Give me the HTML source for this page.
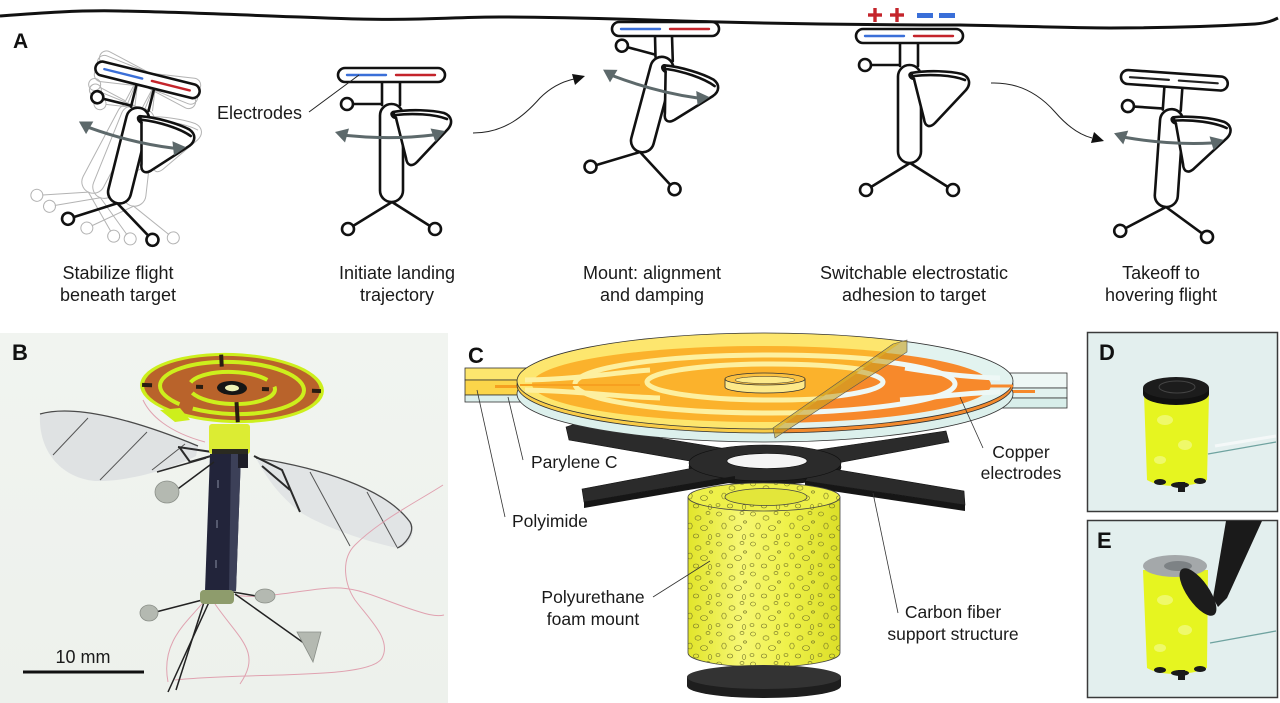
<!DOCTYPE html>
<html><head><meta charset="utf-8">
<style>
html,body{margin:0;padding:0;background:#fff;}
svg{display:block;}
text{font-family:"Liberation Sans",Arial,sans-serif;fill:#1a1a1a;}
.cap{font-size:18px;}
.lab{font-size:17.5px;}
.pl{font-size:22px;font-weight:bold;fill:#111;}
</style></head><body>
<svg width="1280" height="703" viewBox="0 0 1280 703" xmlns="http://www.w3.org/2000/svg">
<defs>
 <g id="stems"><line x1="-10" y1="-121" x2="-10" y2="-97"/><line x1="8" y1="-121" x2="8" y2="-97"/></g>
 <g id="core">
  <line x1="-39" y1="-98" x2="-11" y2="-98"/>
  <line x1="0" y1="0" x2="-39" y2="24"/>
  <line x1="0" y1="0" x2="38" y2="24"/>
  <circle cx="-45" cy="-98" r="6"/>
  <circle cx="-44" cy="27" r="6"/>
  <circle cx="43" cy="27" r="6"/>
  <rect x="-12" y="-98" width="23" height="98" rx="11.5"/>
  <path d="M1,-90 C18,-93 40,-92 52,-89 C60,-86 61,-79 56,-73 L25,-40 C20,-35 15,-36 14,-44 L4,-84 Z"/>
  <path d="M4,-87 C20,-89 42,-88 55,-83" fill="none"/>
  <path d="M4,-84 C-1,-85 -2,-90 2,-90" fill="none"/>
 </g>
 <rect id="padr" x="-54" y="-134" width="107" height="14" rx="7"/>
 <g id="padcol" stroke-width="2.4"><line x1="-45" y1="-127" x2="-6" y2="-127" stroke="#3a6fd8"/><line x1="4" y1="-127" x2="43" y2="-127" stroke="#c4242b"/></g>
 <g id="padblk" stroke-width="2.2" stroke="#222"><line x1="-45" y1="-127" x2="-6" y2="-127"/><line x1="4" y1="-127" x2="43" y2="-127"/></g>
 <g id="flap">
  <path d="M-45,-66.5 Q0,-62 41,-67" fill="none" stroke="#5d696b" stroke-width="3"/>
  <polygon points="-57,-70 -43,-73.5 -47,-59.5" fill="#5d696b" stroke="none"/>
  <polygon points="53,-71 38.5,-73.5 43.5,-60" fill="#5d696b" stroke="none"/>
 </g>
 <pattern id="bub" width="34" height="30" patternUnits="userSpaceOnUse">
  <g fill="none" stroke="#6e6e28" stroke-width="0.6">
   <ellipse cx="5" cy="4" rx="2.5" ry="2"/><ellipse cx="18" cy="8" rx="3" ry="2.2"/>
   <ellipse cx="28" cy="3" rx="2" ry="1.6"/><ellipse cx="10" cy="16" rx="2.2" ry="3"/>
   <ellipse cx="24" cy="18" rx="3.5" ry="2.5"/><ellipse cx="4" cy="25" rx="2" ry="1.5"/>
   <ellipse cx="16" cy="26" rx="2.8" ry="2"/><ellipse cx="30" cy="27" rx="1.8" ry="2.4"/>
   <ellipse cx="31" cy="12" rx="1.5" ry="1.2"/>
  </g>
 </pattern>
 <linearGradient id="cylg" x1="0" x2="1" y1="0" y2="0">
  <stop offset="0" stop-color="#e2e52a"/><stop offset="0.35" stop-color="#f6f774"/>
  <stop offset="0.65" stop-color="#eff14a"/><stop offset="1" stop-color="#dcdf28"/>
 </linearGradient>
 <linearGradient id="bbg" x1="0" x2="0" y1="0" y2="1">
  <stop offset="0" stop-color="#f1f4f0"/><stop offset="1" stop-color="#edf1ec"/>
 </linearGradient>
 <clipPath id="cl"><polygon points="450,320 933,320 775,430 775,470 450,470"/></clipPath>
 <clipPath id="cr"><polygon points="933,320 1080,320 1080,470 775,470 775,430"/></clipPath>
 <clipPath id="cyl"><path d="M688,497 L688,653 A76,14 0 0 0 840,653 L840,497 Z"/></clipPath>
</defs>

<!-- ================= PANEL A ================= -->
<path d="M0,16 C40,13 80,10 120,11 C180,12 240,15 300,17 C350,19 380,20 420,19 C460,18 470,17 500,17 C580,17 640,20 720,22 C800,24 880,25 960,25 C1020,26 1070,28 1110,28 C1170,28 1220,26 1255,24 C1268,23 1274,20 1278,18" fill="none" stroke="#111" stroke-width="3"/>
<text x="13" y="48" class="pl" style="font-size:21px">A</text>

<g stroke-linejoin="round" stroke-linecap="round">
 <!-- drone 1 ghosts -->
 <g fill="none" stroke="#b3b3b3" stroke-width="1">
  <g transform="translate(148,80) rotate(28) translate(0,127)"><use href="#stems"/><use href="#core"/><use href="#padr"/></g>
  <g transform="translate(148,80) rotate(22) translate(0,127)"><use href="#stems"/><use href="#core"/><use href="#padr"/></g>
  <g transform="translate(148,80) rotate(6.5) translate(0,127)"><use href="#stems"/><use href="#core"/><use href="#padr"/></g>
 </g>
 <!-- drone 1 -->
 <g transform="translate(148,80) rotate(14) translate(0,127)" fill="#fff" stroke="#111" stroke-width="2.6">
  <use href="#stems"/><use href="#core"/><use href="#padr"/><use href="#padcol"/><use href="#flap"/>
 </g>
 <!-- drone 2 -->
 <g transform="translate(392,202)" fill="#fff" stroke="#111" stroke-width="2.6">
  <use href="#stems"/><use href="#core"/><use href="#padr"/><use href="#padcol"/><use href="#flap"/>
 </g>
 <!-- drone 3 -->
 <g fill="#fff" stroke="#111" stroke-width="2.6">
  <line x1="655" y1="36" x2="655.5" y2="57"/><line x1="672" y1="36" x2="672.8" y2="61"/>
  <g transform="translate(640,152) rotate(15)"><use href="#core"/><use href="#flap"/></g>
  <g transform="translate(666,156)"><use href="#padr"/><use href="#padcol"/></g>
 </g>
 <!-- drone 4 -->
 <g transform="translate(910,163)" fill="#fff" stroke="#111" stroke-width="2.6">
  <use href="#stems"/><use href="#core"/><use href="#padr"/><use href="#padcol"/>
 </g>
 <!-- drone 5 -->
 <g transform="translate(1166,207) rotate(4)" fill="#fff" stroke="#111" stroke-width="2.6">
  <use href="#stems"/><use href="#core"/><use href="#padr"/><use href="#padblk"/><use href="#flap"/>
 </g>
</g>

<!-- charges -->
<g stroke="#c4242b" stroke-width="3.4">
 <line x1="868" y1="15" x2="882" y2="15"/><line x1="875" y1="8" x2="875" y2="22"/>
 <line x1="890" y1="15" x2="904" y2="15"/><line x1="897" y1="8" x2="897" y2="22"/>
</g>
<g stroke="#3a6fd8" stroke-width="5">
 <line x1="917" y1="15.5" x2="933" y2="15.5"/><line x1="939" y1="15.5" x2="955" y2="15.5"/>
</g>

<!-- transition arrows -->
<path d="M473,133 C505,133 525,115 540,98 C552,86 565,81 574,79" fill="none" stroke="#222" stroke-width="1"/>
<polygon points="585,76 572,74 575,85" fill="#111"/>
<path d="M991,83 C1020,82 1040,95 1055,112 C1068,127 1080,135 1092,138" fill="none" stroke="#222" stroke-width="1"/>
<polygon points="1104,141 1091,143 1094,132" fill="#111"/>

<!-- Electrodes label -->
<text x="217" y="119" class="cap">Electrodes</text>
<line x1="309" y1="112" x2="359" y2="75" stroke="#222" stroke-width="1"/>

<!-- captions -->
<g class="cap" text-anchor="middle">
 <text x="118" y="279">Stabilize flight</text><text x="118" y="301">beneath target</text>
 <text x="397" y="279">Initiate landing</text><text x="397" y="301">trajectory</text>
 <text x="652" y="279">Mount: alignment</text><text x="652" y="301">and damping</text>
 <text x="914" y="279">Switchable electrostatic</text><text x="914" y="301">adhesion to target</text>
 <text x="1161" y="279">Takeoff to</text><text x="1161" y="301">hovering flight</text>
</g>

<!-- ================= PANEL B (photo) ================= -->
<rect x="0" y="333" width="448" height="370" fill="url(#bbg)"/>
<!-- left wing -->
<path d="M40,414 C75,404 135,420 198,446 L196,456 C170,470 125,482 95,481 C62,478 38,452 40,414 Z" fill="#dde0e1" opacity="0.9"/>
<path d="M40,414 C75,404 135,420 198,446" fill="none" stroke="#4a4a4a" stroke-width="1.3"/>
<g stroke="#555" stroke-width="1"><line x1="88" y1="418" x2="53" y2="455"/><line x1="147" y1="432" x2="100" y2="480"/><line x1="185" y1="444" x2="152" y2="470"/></g>
<!-- right wing -->
<path d="M256,458 C320,468 385,488 410,522 C418,535 406,548 397,548 C360,540 320,525 300,512 C285,500 270,485 256,458 Z" fill="#dfe2e3" opacity="0.9"/>
<path d="M256,458 C320,468 385,488 410,522 C416,532 404,546 397,548" fill="none" stroke="#4a4a4a" stroke-width="1.3"/>
<g stroke="#555" stroke-width="1"><line x1="310" y1="472" x2="350" y2="546"/><line x1="367" y1="492" x2="397" y2="547"/></g>
<!-- pink wires -->
<g fill="none" stroke="#e0a2b0" stroke-width="1">
 <path d="M443,485 C420,500 380,520 355,545 C340,560 345,585 355,600 C370,620 392,640 382,658 C370,680 250,672 175,680"/>
 <path d="M235,595 C260,600 300,590 330,588 C360,586 380,600 420,612 C432,616 440,616 444,615"/>
 <path d="M205,600 C190,620 160,640 168,682"/>
 <path d="M215,604 C240,640 262,652 240,684"/>
 <path d="M226,470 C245,520 228,560 218,600"/>
 <path d="M143,400 C150,415 168,432 205,442"/>
</g>
<!-- wing roots -->
<g stroke="#2a2a2a" stroke-width="2" fill="none">
 <path d="M178,447 L212,452 M180,448 L190,462 L211,456"/>
 <path d="M254,456 L282,470 L300,512 M262,466 L290,490"/>
</g>
<line x1="157" y1="472" x2="206" y2="458" stroke="#2a2a2a" stroke-width="1.5"/>
<!-- body -->
<polygon points="210,454 241,454 236,591 205,591" fill="#22243a"/>
<polygon points="231,454 241,454 236,591 229,591" fill="#3c4058"/>
<rect x="238" y="452" width="10" height="16" fill="#1e1e28"/>
<g fill="#55596e"><rect x="217" y="480" width="2" height="8"/><rect x="216" y="520" width="2" height="8"/><rect x="215" y="560" width="2" height="8"/></g>
<!-- foam under disc -->
<rect x="209" y="424" width="41" height="30" rx="3" fill="#dcec33"/>
<rect x="212" y="449" width="36" height="5" fill="#2a2a20"/>
<!-- disc -->
<g transform="rotate(2 232 388)">
 <ellipse cx="232" cy="388" rx="92" ry="35" fill="#cdef1c"/>
 <ellipse cx="232" cy="388" rx="88" ry="32" fill="#b9632b"/>
 <ellipse cx="232" cy="388" rx="72" ry="26" fill="none" stroke="#cdef1c" stroke-width="4" stroke-dasharray="120 14 200 10"/>
 <ellipse cx="232" cy="388" rx="43" ry="16" fill="none" stroke="#cdef1c" stroke-width="4" stroke-dasharray="90 12 80 10"/>
 <g stroke="#2a1d12" stroke-width="4">
  <line x1="220" y1="355" x2="221" y2="367"/><line x1="237" y1="402" x2="239" y2="422"/>
  <line x1="142" y1="388" x2="152" y2="388"/><line x1="196" y1="388" x2="203" y2="388"/>
  <line x1="262" y1="388" x2="269" y2="388"/><line x1="312" y1="388" x2="321" y2="388"/>
 </g>
 <ellipse cx="232" cy="388" rx="15" ry="7" fill="#161616"/>
 <ellipse cx="232" cy="388" rx="7" ry="3.2" fill="#eef3b8"/>
</g>
<path d="M160,410 L175,422 L190,420 L180,408 Z" fill="#cdef1c"/>
<!-- legs -->
<g stroke="#222" stroke-width="1.5" fill="none">
 <line x1="210" y1="598" x2="152" y2="613"/><line x1="214" y1="462" x2="175" y2="491"/>
 <line x1="233" y1="592" x2="262" y2="597"/><line x1="235" y1="594" x2="308" y2="646"/>
 <line x1="210" y1="600" x2="168" y2="692"/><line x1="206" y1="596" x2="176" y2="690"/>
</g>
<rect x="200" y="590" width="34" height="14" rx="4" fill="#8e9c6c"/>
<g fill="#b4b9b1" stroke="#8a8f88" stroke-width="0.8">
 <ellipse cx="149" cy="613" rx="9" ry="8"/><ellipse cx="167" cy="492" rx="12" ry="11"/>
 <ellipse cx="265" cy="596" rx="10" ry="7"/><polygon points="297,632 321,632 313,662"/>
</g>
<!-- scale bar -->
<line x1="23" y1="672" x2="144" y2="672" stroke="#111" stroke-width="3"/>
<text x="83" y="663" text-anchor="middle" style="font-size:18px">10 mm</text>
<text x="12" y="360" class="pl">B</text>

<!-- ================= PANEL C ================= -->
<!-- carbon fiber X -->
<g fill="#2b2b2b" stroke="#111" stroke-width="0.6">
 <polygon points="566,427 575,424 745,452 730,468 569,440"/>
 <polygon points="946,431 949,442 800,470 790,454"/>
 <ellipse cx="765" cy="467" rx="76" ry="18" fill="#1a1a1a"/>
 <polygon points="582,489 725,462 735,476 584,502"/>
 <polygon points="964,491 965,505 805,481 815,466"/>
 <ellipse cx="765" cy="463" rx="76" ry="18"/>
</g>
<polygon points="584,502 735,476 735,482 584,508" fill="#161616"/>
<polygon points="965,505 805,481 805,487 965,511" fill="#161616"/>
<ellipse cx="767" cy="461" rx="40" ry="7.5" fill="#f4f4f4" stroke="#111" stroke-width="0.6"/>

<!-- tabs -->
<g stroke="#333" stroke-width="0.8">
 <rect x="465" y="368" width="65" height="12" fill="#fde66e"/>
 <rect x="465" y="380" width="65" height="15" fill="#fbd54a"/>
 <rect x="465" y="395" width="65" height="7" fill="#dcefec"/>
 <rect x="1000" y="373" width="67" height="15" fill="#eef7f5"/>
 <rect x="1000" y="388" width="67" height="10" fill="#e2f2ef"/>
 <rect x="1000" y="398" width="67" height="10" fill="#d8eeea"/>
</g>
<rect x="495" y="385" width="35" height="3" fill="#f5a020"/>
<rect x="1000" y="390" width="35" height="3" fill="#f5882a"/>

<!-- disc layers -->
<ellipse cx="765" cy="394" rx="248" ry="48" fill="#dcf0ec" stroke="#333" stroke-width="0.8"/>
<g clip-path="url(#cl)">
 <ellipse cx="765" cy="385" rx="248" ry="48" fill="#f9cc48" stroke="#333" stroke-width="0.8"/>
 <ellipse cx="765" cy="381" rx="248" ry="48" fill="#fde66e" stroke="#333" stroke-width="0.8"/>
 <ellipse cx="762" cy="384" rx="230" ry="38" fill="#fbb22c"/>
 <g fill="none" stroke="#fdf0a0" stroke-width="5">
  <ellipse cx="770" cy="384" rx="195" ry="29"/>
  <ellipse cx="772" cy="382" rx="125" ry="18"/>
  <path d="M525,380 C580,379 620,372 650,370"/><path d="M525,390 C580,391 620,397 660,398"/>
 </g>
 <path d="M520,385 L640,385" stroke="#f7a020" stroke-width="2"/>
</g>
<g clip-path="url(#cr)">
 <ellipse cx="765" cy="385" rx="248" ry="48" fill="#f28a2e" stroke="#333" stroke-width="0.8"/>
 <ellipse cx="765" cy="381" rx="248" ry="48" fill="#e2f3ef" stroke="#333" stroke-width="0.8"/>
 <ellipse cx="765" cy="385" rx="226" ry="38" fill="#f7892b"/>
 <g fill="none" stroke="#eef8f6" stroke-width="5">
  <ellipse cx="760" cy="384" rx="195" ry="29"/>
  <ellipse cx="758" cy="382" rx="125" ry="18"/>
  <path d="M1000,378 C960,377 930,372 905,368"/><path d="M1000,392 C960,393 930,398 900,400"/>
 </g>
 <path d="M990,386 L1013,386" stroke="#f7892b" stroke-width="3"/>
</g>
<!-- center ring -->
<path d="M725,379 L725,387 A40,6 0 0 0 805,387 L805,379 Z" fill="#fde98a" stroke="#333" stroke-width="0.8"/>
<ellipse cx="765" cy="379" rx="40" ry="6" fill="#fbc040" stroke="#333" stroke-width="0.8"/>
<ellipse cx="765" cy="380" rx="30" ry="3.5" fill="#fde98a" stroke="#333" stroke-width="0.5"/>
<!-- cut slab -->
<polygon points="893,344 907,340 907,352 775,438 773,428" fill="rgba(200,160,30,0.6)" stroke="#555" stroke-width="0.6"/>

<!-- foam cylinder -->
<path d="M688,497 L688,653 A76,14 0 0 0 840,653 L840,497 Z" fill="url(#cylg)" stroke="#444" stroke-width="0.8"/>
<rect x="686" y="480" width="156" height="190" fill="url(#bub)" clip-path="url(#cyl)"/>
<ellipse cx="764" cy="497" rx="76" ry="14" fill="#eef04a" stroke="#444" stroke-width="0.8"/>
<ellipse cx="764" cy="497" rx="76" ry="14" fill="url(#bub)"/>
<ellipse cx="766" cy="497" rx="41" ry="8.5" fill="#e3e63a" stroke="#444" stroke-width="0.8"/>
<!-- base puck -->
<path d="M687,677 L687,686 A77,12 0 0 0 841,686 L841,677 Z" fill="#1e1e1e"/>
<ellipse cx="764" cy="677" rx="77" ry="12" fill="#333"/>
<ellipse cx="764" cy="664" rx="76" ry="5" fill="none"/>

<!-- C labels + leaders -->
<g stroke="#333" stroke-width="0.8" fill="none">
 <line x1="523" y1="460" x2="508" y2="397"/>
 <line x1="505" y1="517" x2="477" y2="390"/>
 <line x1="653" y1="597" x2="710" y2="561"/>
 <line x1="983" y1="448" x2="960" y2="397"/>
 <line x1="898" y1="613" x2="873" y2="493"/>
</g>
<g class="lab">
 <text x="531" y="468">Parylene C</text>
 <text x="512" y="527">Polyimide</text>
 <text x="593" y="603" text-anchor="middle">Polyurethane</text>
 <text x="593" y="625" text-anchor="middle">foam mount</text>
 <text x="1021" y="458" text-anchor="middle">Copper</text>
 <text x="1021" y="479" text-anchor="middle">electrodes</text>
 <text x="953" y="618" text-anchor="middle">Carbon fiber</text>
 <text x="953" y="640" text-anchor="middle">support structure</text>
</g>
<text x="468" y="363" class="pl">C</text>

<!-- ================= PANEL D ================= -->
<rect x="1087.5" y="332.5" width="190" height="179" fill="#e3efee" stroke="#3a3a3a" stroke-width="1.5"/>
<line x1="1208" y1="454" x2="1276" y2="442" stroke="#6fa3a0" stroke-width="1.3"/>
<line x1="1215" y1="446" x2="1276" y2="436" stroke="#f4f8f8" stroke-width="3"/>
<path d="M1144,394 L1209,394 L1207,480 C1190,488 1160,488 1147,480 Z" fill="#e6f520"/>
<g fill="#f3fb8a" opacity="0.7"><ellipse cx="1165" cy="420" rx="8" ry="5"/><ellipse cx="1185" cy="445" rx="7" ry="5"/><ellipse cx="1160" cy="460" rx="6" ry="4"/></g>
<g fill="#1a1a1a"><ellipse cx="1160" cy="482" rx="6" ry="3"/><ellipse cx="1180" cy="485" rx="9" ry="3"/><ellipse cx="1200" cy="481" rx="6" ry="3"/><rect x="1178" y="482" width="7" height="10"/></g>
<path d="M1143,388 L1143,394 A33,11 0 0 0 1209,394 L1209,388 Z" fill="#111"/>
<ellipse cx="1176" cy="388" rx="33" ry="11" fill="#1c1c1c"/>
<ellipse cx="1177" cy="387" rx="18" ry="6" fill="none" stroke="#444" stroke-width="1"/>
<text x="1099" y="360" class="pl">D</text>

<!-- ================= PANEL E ================= -->
<rect x="1087.5" y="520.5" width="190" height="177" fill="#e3efee" stroke="#3a3a3a" stroke-width="1.5"/>
<line x1="1210" y1="643" x2="1276" y2="631" stroke="#6fa3a0" stroke-width="1.3"/>
<path d="M1143,570 L1208,570 L1207,668 C1190,676 1160,676 1147,668 Z" fill="#e6f520"/>
<g fill="#f3fb8a" opacity="0.7"><ellipse cx="1165" cy="600" rx="8" ry="5"/><ellipse cx="1185" cy="630" rx="7" ry="5"/><ellipse cx="1160" cy="648" rx="6" ry="4"/></g>
<g fill="#1a1a1a"><ellipse cx="1160" cy="670" rx="6" ry="3"/><ellipse cx="1180" cy="673" rx="9" ry="3"/><ellipse cx="1200" cy="669" rx="6" ry="3"/><rect x="1178" y="670" width="7" height="10"/></g>
<ellipse cx="1175" cy="566" rx="32" ry="11" fill="#a4a8aa"/>
<ellipse cx="1178" cy="566" rx="14" ry="5" fill="#7d8285"/>
<ellipse cx="1198" cy="592" rx="28" ry="11" transform="rotate(55 1198 592)" fill="#1c1c1c"/>
<polygon points="1226,521 1262,521 1227,598 1218,607 1213,598" fill="#1a1a1a"/>
<text x="1097" y="548" class="pl">E</text>
</svg>
</body></html>
